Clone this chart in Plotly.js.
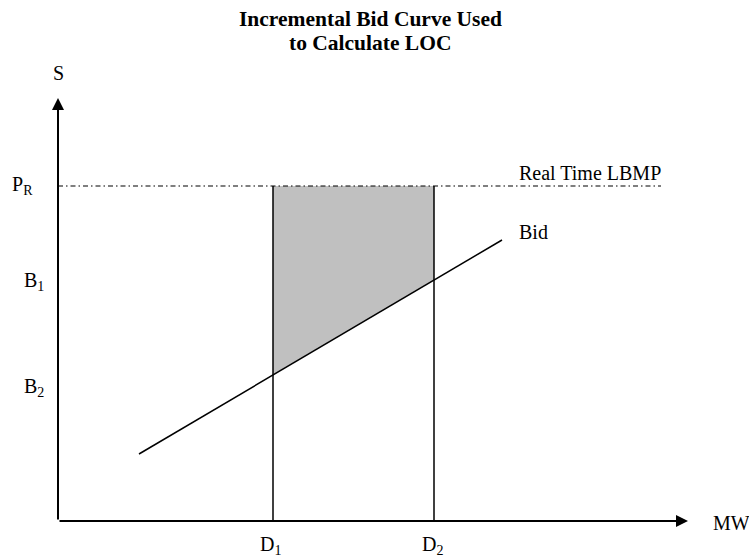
<!DOCTYPE html>
<html>
<head>
<meta charset="utf-8">
<script src="https://cdn.plot.ly/plotly-3.0.1.min.js"></script>
<style>html,body{margin:0;padding:0;background:#fff;}</style>
</head>
<body>
<div id="chart" style="width:749px;height:558px;"></div>
<script>
// Axis extents (arbitrary units)
const xMax = 630;
const yMax = 423;

// Levels on the price axis
const priceLabels = ["P<sub>R</sub>", "B<sub>1</sub>", "B<sub>2</sub>"];
const priceLabelY = [336, 240, 134];
const realTimeLBMP = 335;
const lbmpLineEnd = 603;

// Quantities on the MW axis
const qtyLabels = ["D<sub>1</sub>", "D<sub>2</sub>"];
const qtyValues = [215, 376];

// Bid curve, including its crossings with D1 and D2
const bidX = [81, 215, 376, 444];
const bidY = [67, 146, 241, 281];

// Text labels
const title1 = "Incremental Bid Curve Used";
const title2 = "to Calculate LOC";
const yAxisName = "S";
const xAxisName = "MW";
const lbmpName = "Real Time LBMP";
const bidName = "Bid";

const serif = "Liberation Serif, Times New Roman, serif";
const labelFont = {family: serif, size: 20, color: "#000"};

// helpers to place text in paper units (allowed outside the plot area)
function px(v) { return v / xMax; }
function py(v) { return v / yMax; }

const traces = [];

// Shaded LOC area between D1 and D2, from the bid curve up to P_R
traces.push({
  x: [bidX[1], qtyValues[0], qtyValues[1], bidX[2], bidX[1]],
  y: [bidY[1], realTimeLBMP, realTimeLBMP, bidY[2], bidY[1]],
  mode: "lines", fill: "toself", fillcolor: "#c0c0c0",
  line: {width: 0, color: "rgba(0,0,0,0)"}, hoverinfo: "skip", showlegend: false
});

// Real time LBMP dash-dot line
traces.push({
  x: [0, lbmpLineEnd], y: [realTimeLBMP, realTimeLBMP],
  mode: "lines", line: {color: "#000", width: 1.2, dash: "5px,3px,1.5px,3px"},
  hoverinfo: "skip", showlegend: false, cliponaxis: false
});

// Vertical lines at D1 and D2
qtyValues.forEach(function (q) {
  traces.push({
    x: [q, q], y: [0, realTimeLBMP],
    mode: "lines", line: {color: "#000", width: 1.5},
    hoverinfo: "skip", showlegend: false, cliponaxis: false
  });
});

// Bid curve
traces.push({
  x: [bidX[0], bidX[bidX.length - 1]], y: [bidY[0], bidY[bidY.length - 1]],
  mode: "lines", line: {color: "#000", width: 1.5},
  hoverinfo: "skip", showlegend: false
});

const annotations = [];

// Axes drawn as arrows
annotations.push({x: xMax, y: 0, ax: 0, ay: 0, axref: "x", ayref: "y", xref: "x", yref: "y",
  showarrow: true, arrowhead: 2, arrowwidth: 2, arrowsize: 1.2, arrowcolor: "#000", text: "", standoff: 0});
annotations.push({x: 0, y: yMax, ax: 0, ay: 0, axref: "x", ayref: "y", xref: "x", yref: "y",
  showarrow: true, arrowhead: 2, arrowwidth: 2, arrowsize: 1.2, arrowcolor: "#000", text: "", standoff: 0});

function label(x, y, text, xanchor, font) {
  annotations.push({x: px(x), y: py(y), xref: "paper", yref: "paper", text: text, showarrow: false,
    xanchor: xanchor, yanchor: "middle", font: font || labelFont});
}

// Title (two lines)
const titleFont = {family: serif, size: 21.5, color: "#000"};
label(312, 501.5, "<b>" + title1 + "</b>", "center", titleFont);
label(312, 478.5, "<b>" + title2 + "</b>", "center", titleFont);

// Axis names
label(0, 448, yAxisName, "center");
label(653, -2, xAxisName, "left");

// Price labels
const priceLeft = [-48, -36, -36];
priceLabels.forEach(function (t, i) { label(priceLeft[i], priceLabelY[i], t, "left"); });

// Quantity labels
const qtyCenter = [212, 374];
qtyLabels.forEach(function (t, i) { label(qtyCenter[i], -24, t, "center"); });

// Curve labels
label(459, 348, lbmpName, "left");
label(459, 289, bidName, "left");

const layout = {
  width: 749, height: 558,
  margin: {l: 58, r: 61, t: 98, b: 37, pad: 0},
  paper_bgcolor: "#fff", plot_bgcolor: "#fff",
  xaxis: {range: [0, xMax], visible: false, fixedrange: true},
  yaxis: {range: [0, yMax], visible: false, fixedrange: true},
  showlegend: false,
  hovermode: false,
  annotations: annotations
};

Plotly.newPlot("chart", traces, layout, {displayModeBar: false, responsive: false});
</script>
</body>
</html>
